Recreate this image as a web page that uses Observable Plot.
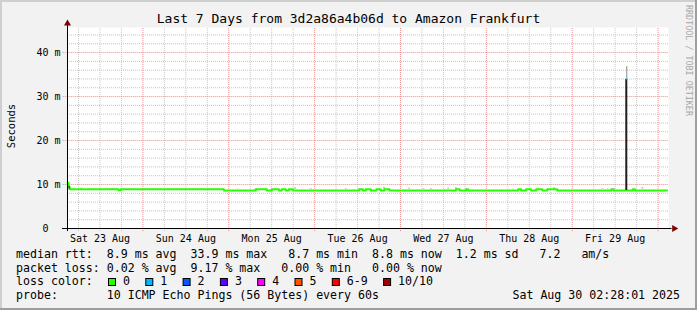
<!DOCTYPE html>
<html><head><meta charset="utf-8">
<script src="https://cdn.jsdelivr.net/npm/d3@7"></script>
<script src="https://cdn.jsdelivr.net/npm/@observablehq/plot@0.6"></script>
<style>
html,body{margin:0;padding:0;background:#f2f2f2;}
svg text{font-family:"DejaVu Sans Mono",monospace;}
</style></head><body><div id="chart"></div>
<script>
// ---- data ----
const titleText = "Last 7 Days from 3d2a86a4b06d to Amazon Frankfurt";
const rangeStart = "2025-08-23T02:55:00Z";
const rangeEnd = "2025-08-30T02:55:00Z";
// median rtt (ms), step line: hours after rangeStart and value
const stepHours = [0, 0.3, 0.6, 14.3, 14.9, 43.7, 52.6, 55.7, 57.1, 59.1, 59.9, 61.0, 61.9, 63.0, 81.5, 82.6, 83.4, 84.8, 86.4, 87.5, 88.6, 90.0, 108.6, 109.6, 111.4, 112.0, 126.0, 126.8, 128.2, 129.6, 131.0, 132.7, 134.1, 136.9, 152.0, 152.6, 158.0, 158.6, 167.6];
const stepMs =    [10.4, 9.5, 8.9, 8.7, 8.9, 8.65, 8.9, 8.65, 8.9, 8.65, 8.9, 8.65, 8.9, 8.65, 8.9, 8.65, 8.9, 8.65, 8.9, 8.65, 8.9, 8.65, 8.9, 8.65, 8.9, 8.65, 8.9, 8.65, 8.9, 8.65, 8.9, 8.65, 8.9, 8.65, 8.9, 8.65, 8.9, 8.65, 8.65];
// light smoke bits above the median
const smokeHours = [3.9, 12.6, 47.6, 63.6, 68.0, 77.8, 88.5, 95.5, 99.5, 101.6, 106.4, 108.6, 136.0, 149.5, 151.0, 153.0, 160.7];
const smokeTopMs = [9.2, 9.1, 9.0, 9.3, 9.1, 9.1, 9.4, 9.2, 9.1, 9.1, 9.2, 9.3, 9.3, 9.1, 9.1, 9.1, 9.3];
// the one spike
const spikeHour = 156.2;
const spikeBaseMs = 8.65;
const spikeMedianMs = 33.9;
const spikeSmokeTopMs = 36.8;
// axes
const yTicks = [0, 10, 20, 30, 40];
const yUnit = "m";
const yTitle = "Seconds";
const dayLabels = ["2025-08-23", "2025-08-24", "2025-08-25", "2025-08-26", "2025-08-27", "2025-08-28", "2025-08-29"];
// legend
const legendRtt = "median rtt:  8.9 ms avg  33.9 ms max   8.7 ms min  8.8 ms now  1.2 ms sd   7.2   am/s";
const legendLoss = "packet loss: 0.02 % avg  9.17 % max   0.00 % min   0.00 % now";
const lossLabels = ["0", "1", "2", "3", "4", "5", "6-9", "10/10"];
const lossColors = ["#26ff00", "#00b8ff", "#0059ff", "#5e00ff", "#ff00ff", "#ff5500", "#ff0000", "#a10000"];
const probeText = "probe:       10 ICMP Echo Pings (56 Bytes) every 60s";
const stampText = "Sat Aug 30 02:28:01 2025";
const sideText = "RRDTOOL / TOBI OETIKER";

// ---- build ----
const t0 = new Date(rangeStart), t1 = new Date(rangeEnd);
const toDate = h => new Date(+t0 + h * 3600e3);
const median = stepHours.map((h, i) => ({t: toDate(h), v: stepMs[i]}));
const smoke = smokeHours.map((h, i) => ({t: toDate(h), v: smokeTopMs[i]}));
const spike = [{t: toDate(spikeHour)}];
const noons = dayLabels.map(d => new Date(d + "T12:00:00Z"));
const midnights = d3.utcDay.range(d3.utcDay.ceil(t0), t1);
const sixHours = d3.utcHour.every(6).range(t0, t1).filter(d => d.getUTCHours() !== 0);
const minorY = d3.range(2, 46, 2).filter(v => v % 10 !== 0);
const majorY = yTicks.filter(v => v > 0);

const W = 697, H = 310;
const fmtDay = d3.utcFormat("%a %d %b");

const chart = Plot.plot({
  width: W, height: H,
  marginLeft: 67, marginRight: W - 668, marginTop: 27, marginBottom: H - 228,
  style: {background: "#f2f2f2", fontFamily: "DejaVu Sans Mono", fontSize: "10px", overflow: "visible"},
  x: {type: "utc", domain: [t0, t1], axis: null},
  y: {domain: [0, 45.7], axis: null},
  marks: [
    Plot.frame({fill: "white", stroke: null}),
    Plot.ruleY(minorY, {stroke: "#c4c4c4", strokeDasharray: "1,1", strokeWidth: 1}),
    Plot.ruleX(sixHours, {y1: -0.7, y2: 45.7, stroke: "#c4c4c4", strokeDasharray: "1,1", strokeWidth: 1}),
    Plot.ruleY(majorY, {x1: toDate(-1.2), x2: t1, stroke: "#ee8c8c", strokeDasharray: "1,1", strokeWidth: 1}),
    Plot.ruleX(midnights, {y1: -0.7, y2: 45.7, stroke: "#ee8c8c", strokeDasharray: "1,1", strokeWidth: 1}),
    Plot.ruleX(smoke, {x: "t", y1: 8.9, y2: "v", stroke: "#c8c8c8", strokeWidth: 2}),
    Plot.line(median, {x: "t", y: "v", curve: "step-after", stroke: "#26ff00", strokeWidth: 2}),
    Plot.ruleX([{t: toDate(0.45)}], {x: "t", y1: 8.9, y2: 9.6, stroke: "#222", strokeWidth: 1}),
    Plot.ruleX(spike, {x: "t", y1: spikeBaseMs, y2: spikeMedianMs, stroke: "#1e1e1e", strokeWidth: 2}),
    Plot.ruleX(spike, {x: "t", y1: spikeMedianMs, y2: spikeSmokeTopMs, stroke: "#8a8a8a", strokeWidth: 1, dx: 0.5}),
    Plot.ruleX(spike, {x: "t", y1: spikeMedianMs - 0.3, y2: spikeMedianMs + 0.1, stroke: "#00b8ff", strokeWidth: 1, dx: 0.5}),
    // axes
    Plot.ruleY([0], {x1: toDate(-1.4), x2: toDate(169), stroke: "black", strokeWidth: 1}),
    Plot.ruleX([t0], {y1: -0.7, y2: 46.6, stroke: "black", strokeWidth: 1}),
    Plot.dot([{t: toDate(169.6), v: 0}], {x: "t", y: "v", symbol: "triangle", r: 2.6, rotate: 90, fill: "#7f0000", stroke: null}),
    Plot.dot([{t: t0, v: 46.6}], {x: "t", y: "v", symbol: "triangle", r: 2.6, fill: "#7f0000", stroke: null}),
    Plot.text(noons, {x: d => d, y: 0, dy: 10, text: d => fmtDay(d), fontSize: 10, fill: "black"}),
    Plot.text(yTicks, {frameAnchor: "left", y: d => d, dx: -7, textAnchor: "end", fontSize: 10, fill: "black",
      text: d => d === 0 ? "0\u00a0\u00a0" : d + " " + yUnit})
  ]
});
document.getElementById("chart").appendChild(chart);

const svg = d3.select(chart);
// 3D frame
svg.append("rect").attr("x", 0).attr("y", 0).attr("width", W).attr("height", 2).attr("fill", "#cfcfcf");
svg.append("rect").attr("x", 0).attr("y", 0).attr("width", 2).attr("height", H).attr("fill", "#cfcfcf");
svg.append("rect").attr("x", 0).attr("y", H - 2).attr("width", W).attr("height", 2).attr("fill", "#9e9e9e");
svg.append("rect").attr("x", W - 2).attr("y", 0).attr("width", 2).attr("height", H).attr("fill", "#9e9e9e");

const txt = () => svg.append("text").attr("text-anchor", "start").attr("fill", "black");
txt().attr("x", 348.5).attr("y", 23).attr("text-anchor", "middle").attr("font-size", 13).text(titleText);
txt().attr("transform", "translate(10.5,126) rotate(-90)").attr("text-anchor", "middle")
  .attr("dominant-baseline", "central").attr("font-size", 10.5).text(yTitle);
txt().attr("transform", "translate(688.5,5) rotate(90)")
  .attr("dominant-baseline", "central").attr("font-size", 8.4).attr("fill", "#a8a8a8").text(sideText);

const lx = 16, fs = 11.6;
[legendRtt, legendLoss].forEach((s, i) => {
  txt().attr("x", lx).attr("y", 258 + i * 13.6).attr("font-size", fs)
    .attr("xml:space", "preserve").style("white-space", "pre").text(s);
});
txt().attr("x", lx).attr("y", 285.2).attr("font-size", fs).text("loss color:");
let sx = 108;
lossLabels.forEach((lab, i) => {
  svg.append("rect").attr("x", sx + 0.5).attr("y", 278.5).attr("width", 7).attr("height", 7)
    .attr("fill", lossColors[i]).attr("stroke", "black").attr("stroke-width", 1);
  txt().attr("x", sx + 15).attr("y", 285.2).attr("font-size", fs).text(lab);
  sx += 15 + lab.length * 7 + 15.3;
});
txt().attr("x", lx).attr("y", 298.8).attr("font-size", fs)
  .attr("xml:space", "preserve").style("white-space", "pre").text(probeText);
txt().attr("x", 680).attr("y", 298.8).attr("text-anchor", "end").attr("font-size", fs).text(stampText);
</script></body></html>
